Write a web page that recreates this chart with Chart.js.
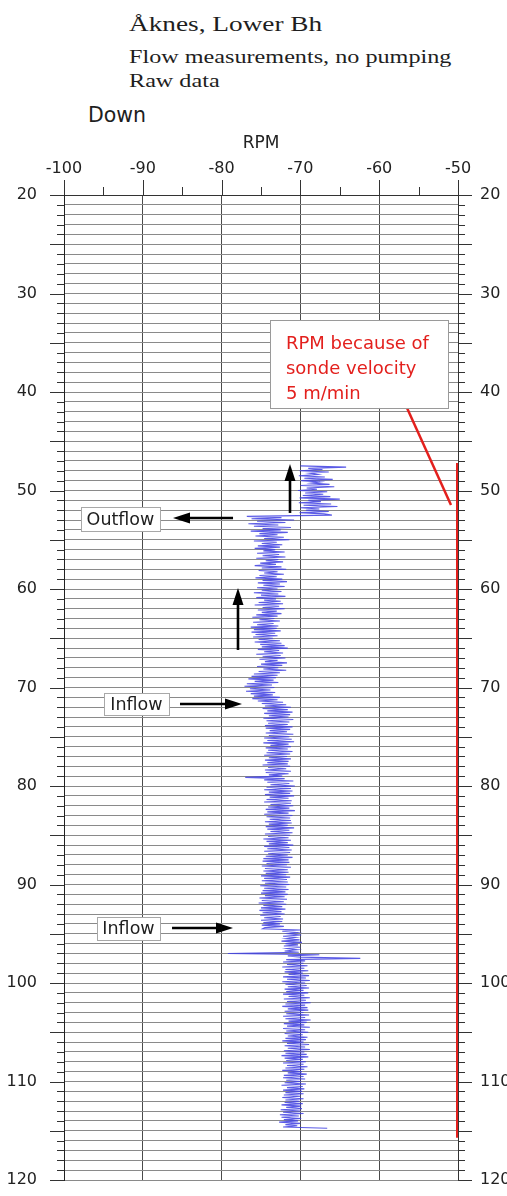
<!DOCTYPE html>
<html lang="en">
<head>
  <meta charset="UTF-8">
  <title>Åknes, Lower Bh – flow log</title>
  <script src="https://cdn.jsdelivr.net/npm/chart.js@4.4.0/dist/chart.umd.min.js"></script>
  <style>
    body {
      margin: 0;
      background: #fff;
      width: 507px;
      height: 1196px;
      overflow: hidden;
      position: relative;
    }
    #flowChart {
      position: absolute;
      left: 0;
      top: 0;
    }
    .head {
      position: absolute;
      left: 129px;
      font-family: 'Liberation Serif', 'Times New Roman', serif;
      color: #1e1e1e;
      line-height: 1;
      white-space: nowrap;
      transform: scaleX(1.24);
      transform-origin: 0 0;
    }
    .head.main { top: 13px; font-size: 22px; }
    .head.sub1 { top: 47px; font-size: 19.5px; }
    .head.sub2 { top: 71px; font-size: 19.5px; }
    #direction {
      position: absolute;
      left: 88px;
      top: 105px;
      font-family: 'DejaVu Sans', Arial, sans-serif;
      font-size: 20.5px;
      line-height: 1;
      color: #1e1e1e;
    }
  </style>
</head>
<body>
  <div class="head main">Åknes, Lower Bh</div>
  <div class="head sub1">Flow measurements, no pumping</div>
  <div class="head sub2">Raw data</div>
  <div id="direction">Down</div>
  <canvas id="flowChart" width="507" height="1196"></canvas>

  <script>
    // axis ranges
    const rpmMin = -100, rpmMax = -50;
    const depthMin = 20, depthMax = 120;

    // logging interval (m) and start depth of each logged section
    const sampleStep = 0.125;
    const upperStartDepth = 47.5;
    const middleStartDepth = 52.625;
    const lowerStartDepth = 94.625;

    // RPM, sonde going down, 47.5 - 52.5 m (one row per metre)
    const rpmUpper = [
      -70.0, -64.2, -69.0, -67.2, -70.1, -66.4, -68.8, -67.8,
      -70.2, -66.9, -69.5, -65.9, -69.9, -67.5, -68.6, -66.3,
      -70.0, -65.7, -69.2, -67.9, -70.3, -66.6, -69.4, -67.1,
      -69.7, -66.2, -70.1, -65.0, -69.0, -67.4, -70.2, -66.1,
      -69.6, -65.3, -70.0, -67.6, -69.3, -66.4, -70.1, -67.0,
      -66.0
    ];

    // RPM, 52.625 - 94.5 m
    const rpmMiddle = [
      -76.8, -72.4, -76.2, -70.8, -75.5, -71.9, -76.6, -72.8,
      -75.9, -71.2, -74.8, -72.5, -76.3, -71.6, -75.2, -72.9,
      -75.7, -72.1, -74.6, -71.4, -75.9, -73.0, -74.9, -72.3,
      -75.4, -72.6, -75.8, -73.2, -74.7, -72.0, -75.5, -72.7,
      -74.8, -71.9, -75.6, -72.8, -74.4, -72.2, -75.1, -73.1,
      -75.8, -72.4, -74.9, -71.8, -75.3, -72.9, -74.6, -72.1,
      -75.2, -73.0, -75.7, -72.3, -74.8, -71.7, -75.4, -72.6,
      -74.7, -72.0, -75.5, -72.9, -74.9, -72.4, -75.9, -72.8,
      -75.0, -71.9, -75.6, -73.1, -74.6, -72.5, -75.3, -72.2,
      -75.8, -72.7, -74.8, -72.0, -75.4, -73.0, -74.9, -72.4,
      -75.6, -72.9, -76.1, -73.3, -75.2, -72.6, -76.0, -73.4,
      -75.5, -72.8, -76.3, -73.0, -75.9, -72.5, -76.2, -73.2,
      -75.7, -72.9, -76.0, -73.5, -75.3, -72.6, -75.8, -72.4,
      -75.1, -72.0, -74.9, -71.6, -75.4, -72.7, -74.6, -72.2,
      -75.6, -72.5, -74.8, -71.9, -75.2, -72.9, -74.5, -71.7,
      -75.0, -72.3, -75.5, -72.8, -74.7, -71.8, -75.3, -72.6,
      -75.9, -72.9, -76.2, -73.1, -76.6, -73.4, -75.8, -72.8,
      -76.8, -73.6, -77.1, -73.3, -76.4, -73.8, -76.9, -73.2,
      -76.3, -73.5, -75.9, -72.6, -76.1, -72.9, -75.4, -72.2,
      -74.9, -71.8, -74.5, -71.2, -74.8, -71.6, -74.2, -71.0,
      -74.6, -71.3, -74.0, -71.5, -74.7, -70.9, -74.3, -71.4,
      -74.1, -71.6, -74.5, -71.0, -74.4, -71.3, -73.9, -71.7,
      -74.4, -70.9, -74.0, -71.4, -74.6, -71.1, -74.2, -70.8,
      -74.7, -71.5, -73.8, -71.2, -74.4, -71.6, -74.1, -71.0,
      -74.3, -71.3, -74.6, -71.7, -74.0, -71.2, -74.5, -71.5,
      -74.2, -71.6, -74.8, -71.3, -74.1, -71.8, -74.5, -71.2,
      -74.4, -71.5, -74.0, -72.3, -77.0, -72.0, -74.6, -70.9,
      -74.2, -71.4, -73.8, -70.7, -74.3, -71.2, -74.6, -71.0,
      -74.0, -71.3, -74.5, -70.8, -73.9, -71.5, -74.3, -71.1,
      -74.6, -71.2, -73.8, -70.9, -74.1, -71.4, -74.4, -70.7,
      -74.2, -71.5, -74.6, -71.0, -74.3, -71.3, -73.9, -71.2,
      -74.5, -71.1, -74.0, -71.6, -74.4, -70.8, -74.2, -71.4,
      -73.8, -71.0, -74.5, -71.3, -74.1, -71.5, -74.7, -71.2,
      -74.3, -71.6, -74.0, -70.9, -74.6, -71.4, -74.2, -71.1,
      -74.6, -71.3, -74.1, -71.6, -74.4, -71.0, -74.7, -71.5,
      -74.8, -71.4, -74.3, -71.7, -74.9, -71.2, -74.5, -71.6,
      -74.7, -71.5, -74.4, -71.8, -75.0, -71.3, -74.6, -71.7,
      -74.9, -71.6, -74.5, -71.4, -75.1, -71.8, -74.6, -71.5,
      -74.8, -71.9, -75.0, -71.6, -74.5, -72.0, -75.2, -71.7,
      -74.9, -72.1, -75.3, -71.8, -74.7, -72.3, -75.0, -71.9,
      -75.2, -72.4, -74.8, -72.0, -75.1, -72.5, -74.6, -72.2,
      -75.0, -72.3, -74.7, -72.6, -74.9, -72.1, -74.5, -74.8
    ];

    // RPM, 94.625 - 114.75 m
    const rpmLower = [
      -70.0, -72.3, -70.4, -71.6, -69.9, -72.2, -70.6, -71.8,
      -70.1, -72.4, -69.8, -71.9, -70.3, -72.1, -70.0, -71.7,
      -70.4, -72.0, -70.2, -79.2, -67.6, -71.6, -70.0, -62.4,
      -71.8, -69.4, -72.2, -69.6, -71.7, -69.1, -72.3, -69.5,
      -71.9, -69.0, -72.0, -69.7, -71.5, -68.9, -72.2, -69.3,
      -71.7, -68.8, -72.3, -69.4, -71.9, -69.2, -71.6, -68.9,
      -72.0, -69.6, -71.8, -69.0, -72.2, -69.5, -71.5, -68.8,
      -72.1, -69.3, -71.7, -68.7, -71.9, -69.4, -72.3, -69.1,
      -71.6, -69.0, -72.0, -69.6, -71.8, -68.9, -72.2, -69.4,
      -71.9, -68.7, -71.5, -69.2, -72.1, -69.5, -71.7, -68.8,
      -72.2, -69.4, -71.8, -69.0, -72.0, -69.7, -71.6, -69.1,
      -71.9, -69.3, -72.3, -69.6, -71.7, -68.9, -72.0, -69.4,
      -71.6, -68.8, -72.1, -69.5, -71.9, -69.2, -72.4, -69.0,
      -72.0, -69.7, -71.8, -69.3, -72.2, -69.6, -71.7, -69.1,
      -71.9, -69.5, -72.3, -69.8, -71.6, -69.2, -72.1, -69.6,
      -72.2, -69.4, -71.8, -69.9, -72.0, -69.3, -72.4, -69.7,
      -71.7, -69.5, -72.2, -69.8, -71.9, -69.6, -72.1, -70.0,
      -72.3, -69.6, -71.9, -70.1, -72.0, -69.7, -72.4, -69.9,
      -71.8, -69.8, -72.5, -70.0, -72.2, -69.6, -72.6, -70.2,
      -72.4, -69.9, -72.1, -70.3, -72.7, -70.0, -71.9, -70.4,
      -72.2, -66.6
    ];

    // RPM caused by the sonde moving at 5 m/min
    const sondeRpm = [-50, -50];
    const sondeDepth = [47.2, 115.7];

    const sansFont = "'DejaVu Sans', Arial, sans-serif";
    const red = '#e3201d';

    const toPoints = (values, startDepth) =>
      values.map((v, i) => ({ x: v, y: startDepth + i * sampleStep }));

    const downPoints = [
      ...toPoints(rpmUpper, upperStartDepth),
      ...toPoints(rpmMiddle, middleStartDepth),
      ...toPoints(rpmLower, lowerStartDepth)
    ];
    const sondePoints = sondeRpm.map((v, i) => ({ x: v, y: sondeDepth[i] }));

    // annotation placement, in RPM / depth units
    const noteBox = { x0: -73.86, x1: -51.27, y0: 32.69, y1: 41.62, textX: -71.83 };
    const noteLines = ['RPM because of', 'sonde velocity', '5 m/min'];
    const noteLeader = [-56.47, 41.62, -50.89, 51.47];
    const labelBoxes = [
      { text: 'Outflow', x0: -97.84, x1: -87.82, y0: 51.68, y1: 54.11 },
      { text: 'Inflow', x0: -94.92, x1: -86.68, y0: 70.56, y1: 72.79 },
      { text: 'Inflow', x0: -95.81, x1: -87.82, y0: 93.30, y1: 95.63 }
    ];
    const arrows = [
      [-71.32, 52.28, -71.32, 47.31],
      [-78.55, 52.79, -86.17, 52.79],
      [-77.92, 66.19, -77.92, 59.90],
      [-85.28, 71.68, -77.41, 71.68],
      [-86.29, 94.42, -78.55, 94.42]
    ];

    // tick marks outside the frame: long every 5 m / 10 RPM, short otherwise
    const frameTicks = {
      id: 'frameTicks',
      afterDraw(chart) {
        const { ctx, chartArea: a, scales: { x, y } } = chart;
        ctx.save();
        ctx.strokeStyle = '#333';
        ctx.lineWidth = 1;
        ctx.beginPath();
        for (let d = depthMin; d <= depthMax; d++) {
          const py = Math.round(y.getPixelForValue(d)) + 0.5;
          const len = d % 5 === 0 ? 14 : 7;
          ctx.moveTo(a.left - len, py);
          ctx.lineTo(a.left, py);
          ctx.moveTo(a.right, py);
          ctx.lineTo(a.right + len, py);
        }
        for (let r = rpmMin; r <= rpmMax; r += 5) {
          const px = Math.round(x.getPixelForValue(r)) + 0.5;
          const len = r % 10 === 0 ? 15 : 8;
          ctx.moveTo(px, a.top - len);
          ctx.lineTo(px, a.top);
        }
        ctx.stroke();
        ctx.restore();
      }
    };

    const drawArrow = (ctx, x1, y1, x2, y2) => {
      const ang = Math.atan2(y2 - y1, x2 - x1);
      const head = 17, half = 5.5;
      const bx = x2 - head * Math.cos(ang), by = y2 - head * Math.sin(ang);
      ctx.beginPath();
      ctx.moveTo(x1, y1);
      ctx.lineTo(bx, by);
      ctx.stroke();
      ctx.beginPath();
      ctx.moveTo(x2, y2);
      ctx.lineTo(bx + half * Math.sin(ang), by - half * Math.cos(ang));
      ctx.lineTo(bx - half * Math.sin(ang), by + half * Math.cos(ang));
      ctx.closePath();
      ctx.fill();
    };

    const annotations = {
      id: 'annotations',
      afterDatasetsDraw(chart) {
        const { ctx, scales: { x, y } } = chart;
        const px = v => x.getPixelForValue(v);
        const py = v => y.getPixelForValue(v);
        ctx.save();

        // leader line from the note to the sonde line
        ctx.strokeStyle = red;
        ctx.lineWidth = 2.5;
        ctx.beginPath();
        ctx.moveTo(px(noteLeader[0]), py(noteLeader[1]));
        ctx.lineTo(px(noteLeader[2]), py(noteLeader[3]));
        ctx.stroke();

        // note box
        const nx = px(noteBox.x0), ny = py(noteBox.y0);
        const nw = px(noteBox.x1) - nx, nh = py(noteBox.y1) - ny;
        ctx.fillStyle = '#fff';
        ctx.fillRect(nx, ny, nw, nh);
        ctx.strokeStyle = '#9a9a9a';
        ctx.lineWidth = 1;
        ctx.strokeRect(Math.round(nx) + 0.5, Math.round(ny) + 0.5, Math.round(nw), Math.round(nh));
        ctx.fillStyle = red;
        ctx.font = '18px ' + sansFont;
        ctx.textAlign = 'left';
        ctx.textBaseline = 'alphabetic';
        noteLines.forEach((t, i) => ctx.fillText(t, px(noteBox.textX), ny + 29 + i * 25));

        // inflow / outflow labels
        ctx.font = '17.5px ' + sansFont;
        ctx.textAlign = 'center';
        ctx.textBaseline = 'middle';
        labelBoxes.forEach(b => {
          const bx = px(b.x0), by = py(b.y0);
          const bw = px(b.x1) - bx, bh = py(b.y1) - by;
          ctx.fillStyle = '#fff';
          ctx.fillRect(bx, by, bw, bh);
          ctx.strokeStyle = '#a8a8a8';
          ctx.strokeRect(Math.round(bx) + 0.5, Math.round(by) + 0.5, Math.round(bw), Math.round(bh));
          ctx.fillStyle = '#1e1e1e';
          ctx.fillText(b.text, bx + bw / 2, by + bh / 2 + 1);
        });

        // flow arrows
        ctx.strokeStyle = '#000';
        ctx.fillStyle = '#000';
        ctx.lineWidth = 2.6;
        arrows.forEach(a => drawArrow(ctx, px(a[0]), py(a[1]), px(a[2]), py(a[3])));

        ctx.restore();
      }
    };

    Chart.defaults.font.family = sansFont;
    Chart.defaults.font.size = 16;
    Chart.defaults.color = '#222';

    // label every 10 m, grid line every metre
    const depthTicks = {
      stepSize: 1,
      autoSkip: false,
      padding: 4,
      callback: v => (v % 10 === 0 ? v : '')
    };

    new Chart(document.getElementById('flowChart'), {
      type: 'scatter',
      data: {
        datasets: [
          {
            label: 'RPM down',
            data: downPoints,
            showLine: true,
            borderColor: 'rgba(62, 62, 226, 0.85)',
            borderWidth: 1.1,
            pointRadius: 0,
            yAxisID: 'y'
          },
          {
            label: 'Sonde velocity',
            data: sondePoints,
            showLine: true,
            borderColor: red,
            borderWidth: 4,
            pointRadius: 0,
            yAxisID: 'y'
          }
        ]
      },
      options: {
        responsive: false,
        animation: false,
        devicePixelRatio: 1,
        layout: { padding: { top: 0, bottom: 16, left: 0, right: 0 } },
        plugins: {
          legend: { display: false },
          tooltip: { enabled: false }
        },
        scales: {
          x: {
            type: 'linear',
            position: 'top',
            min: rpmMin,
            max: rpmMax,
            afterFit: s => { s.height = 195; },
            ticks: { stepSize: 10, padding: 17 },
            grid: { color: '#4a4a4a', drawTicks: false },
            border: { display: true, color: '#333' },
            title: {
              display: true,
              text: 'RPM',
              font: { size: 17 },
              padding: { top: 133, bottom: 0 }
            }
          },
          y: {
            type: 'linear',
            position: 'left',
            reverse: true,
            min: depthMin,
            max: depthMax,
            afterFit: s => { s.width = 64; },
            ticks: depthTicks,
            // invisible tick marks just push the labels away from the frame
            grid: { color: '#8a8a8a', drawTicks: true, tickLength: 23, tickColor: 'rgba(0,0,0,0)' },
            border: { display: true, color: '#222' }
          },
          y2: {
            type: 'linear',
            position: 'right',
            reverse: true,
            min: depthMin,
            max: depthMax,
            afterFit: s => { s.width = 49; },
            ticks: depthTicks,
            grid: { drawOnChartArea: false, drawTicks: true, tickLength: 18, tickColor: 'rgba(0,0,0,0)' },
            border: { display: true, color: '#333' }
          }
        }
      },
      plugins: [frameTicks, annotations]
    });
  </script>
</body>
</html>
